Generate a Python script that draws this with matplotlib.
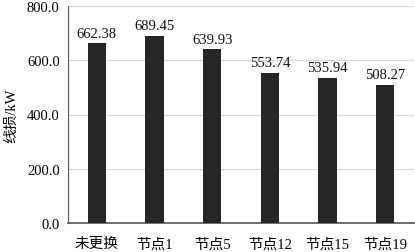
import matplotlib
matplotlib.use("Agg")
import matplotlib.pyplot as plt

categories = ["未更换", "节点1", "节点5", "节点12", "节点15", "节点19"]
values = [662.38, 689.45, 639.93, 553.74, 535.94, 508.27]
yticks = [0, 200, 400, 600, 800]

plt.rcParams['font.family'] = ['Liberation Serif', 'Noto Sans CJK SC']

fig = plt.figure(figsize=(4.15, 2.53), dpi=100)
ax = fig.add_axes([68/415, 1-224/253, 346/415, 217/253])
x = range(len(categories))
ax.bar(x, values, width=0.32, color='#262626', zorder=3)
for xi, v in zip(x, values):
    ax.text(xi, v + 14, f"{v:.2f}", ha='center', va='bottom', fontsize=10.5, color='#111111')
ax.set_ylim(0, 800)
ax.set_xlim(-0.5, len(categories) - 0.5)
ax.set_yticks(yticks)
ax.set_yticklabels([f"{t:.1f}" for t in yticks], fontsize=10.5)
ax.set_xticks(list(x))
ax.set_xticklabels(categories, fontsize=10.5)
ax.tick_params(axis='both', length=0, pad=6)
ax.tick_params(axis='x', pad=10)
ax.grid(axis='y', color='#d9d9d9', linewidth=0.8, zorder=0)
for s in ['top', 'right']:
    ax.spines[s].set_visible(False)
ax.spines['left'].set_color('#555555')
ax.spines['bottom'].set_color('#555555')
ax.spines['bottom'].set_linewidth(1.2)
ax.set_ylabel("线损/kW", fontsize=10.5, labelpad=6)
fig.savefig("out.png", dpi=100)
